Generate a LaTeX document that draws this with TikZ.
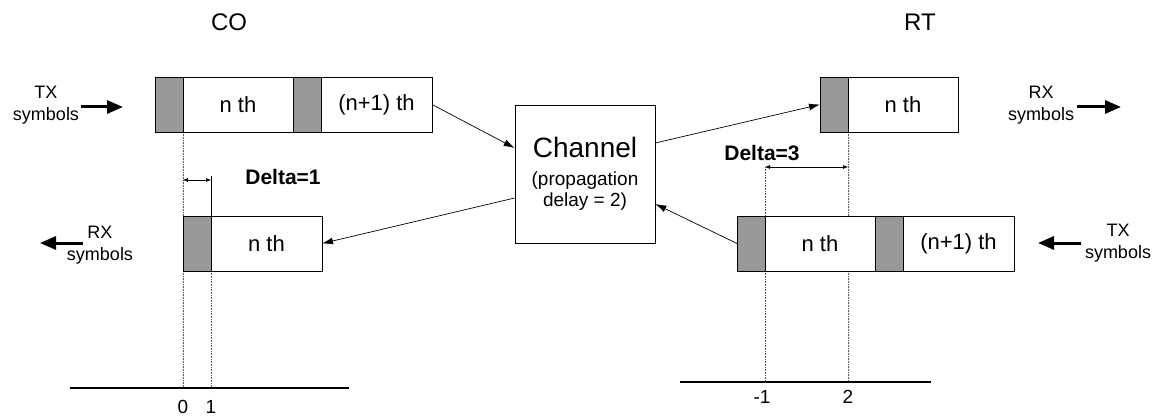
\documentclass[tikz,border=0pt]{standalone}
\usepackage{fontspec}
\setmainfont{Liberation Sans}
\usetikzlibrary{arrows.meta,backgrounds}

\begin{document}
\begin{tikzpicture}[x=1pt,y=-1pt,
  cell/.style={draw, line width=0.7pt, minimum height=55pt, inner sep=0pt,
    outer sep=0pt, anchor=west, fill=white, font=\fontsize{22}{26}\selectfont},
  guard/.style={cell, fill=black!40, minimum width=28pt},
  link/.style={line width=0.7pt, -{Latex[length=11pt,width=7pt]}},
  sym/.style={line width=3pt, -{Triangle[length=16pt,width=13pt]}},
  span/.style={line width=0.6pt, {Latex[length=5pt,width=4pt]}-{Latex[length=5pt,width=4pt]}},
  guide/.style={draw=black!65, line width=0.6pt, dash pattern=on 0.8pt off 0.8pt},
  timeline/.style={line width=1.8pt},
  tag/.style={font=\fontsize{18}{22}\selectfont, align=center, inner sep=0pt},
  tick/.style={font=\fontsize{19}{22}\selectfont, anchor=north, inner sep=0pt},
  title/.style={font=\fontsize{24}{28}\selectfont, inner sep=0pt},
  delta/.style={font=\fontsize{21}{24}\selectfont\bfseries, inner sep=0pt}]
\useasboundingbox (0,0) rectangle (1152,417);

% titles
\node[title] (cotitle) at (229,22) {CO};
\node[title] (rttitle) at (920,22) {RT};

% CO: transmitted frame
\node[guard] (cotxg1) at (155,104.5) {};
\node[cell, minimum width=110pt] (cotxn) at (cotxg1.east) {n th};
\node[guard] (cotxg2) at (cotxn.east) {};
\node[cell, minimum width=111pt] (cotxn1) at (cotxg2.east) {(n+1) th};

% CO: received frame
\node[guard] (corxg) at (183,243.5) {};
\node[cell, minimum width=111pt] (corxn) at (corxg.east) {n th};

% RT: received frame
\node[guard] (rtrxg) at (820,104.5) {};
\node[cell, minimum width=110pt] (rtrxn) at (rtrxg.east) {n th};

% RT: transmitted frame
\node[guard] (rttxg) at (737,243.5) {};
\node[cell, minimum width=110pt] (rttxn) at (rttxg.east) {n th};
\node[guard] (rttxg2) at (rttxn.east) {};
\node[cell, minimum width=111pt] (rttxn1) at (rttxg2.east) {(n+1) th};

% channel
\node[draw, line width=0.7pt, minimum width=140pt, minimum height=138pt,
  align=center, font=\fontsize{19}{21}\selectfont] (chan) at (585,174)
  {{\fontsize{28}{30}\selectfont Channel}\\[7pt](propagation\\delay = 2)};

% time axes
\coordinate (coL) at (70,388);  \coordinate (coR) at (349,388);
\coordinate (rtL) at (680,382); \coordinate (rtR) at (931,382);
\draw[timeline] (coL) -- (coR);
\draw[timeline] (rtL) -- (rtR);

\coordinate (d1) at (0,180);
\coordinate (d3) at (0,167);

\begin{scope}[on background layer]
  \draw[guide] (cotxg1.south east) -- (cotxg1.south east |- coL);
  \draw[guide] (corxg.south east) -- (corxg.south east |- coL);
  \draw[guide] (rtrxg.south east) -- (rtrxg.south east |- rtL);
  \draw[guide] (rttxg.east |- d3) -- (rttxg.east |- rtL);
\end{scope}
\draw[line width=0.6pt] (corxg.north east) -- ([yshift=40pt]corxg.north east);

% offsets
\draw[span] (cotxg1.south east |- d1) -- (corxg.east |- d1);
\node[delta] (delta1) at (283,177) {Delta=1};
\draw[span] (rttxg.east |- d3) -- (rtrxg.south east |- d3);
\node[delta] (delta3) at (762,153) {Delta=3};

% axis marks
\node[tick] (l0) at ([yshift=-12pt]cotxg1.south east |- coL) {0};
\node[tick] (l1) at ([yshift=-12pt]corxg.east |- coL) {1};
\node[tick] (lm1) at ([xshift=-3pt,yshift=-8pt]rttxg.east |- rtL) {-1};
\node[tick] (l2) at ([yshift=-8pt]rtrxg.south east |- rtL) {2};

% links through the channel
\draw[link] (cotxn1.east) -- ([yshift=26pt]chan.west);
\draw[link] ([yshift=31pt]chan.east) -- (rtrxg.west);
\draw[link] (rttxg.west) -- ([yshift=-30pt]chan.east);
\draw[link] ([yshift=-24pt]chan.west) -- (corxn.east);

% symbol streams
\node[tag] (cotx) at (46,105) {TX\\symbols};
\coordinate (cotxa) at (81,107); \coordinate (cotxb) at (123,107);
\draw[sym] (cotxa) -- (cotxb);

\node[tag] (corx) at (100,245) {RX\\symbols};
\coordinate (corxa) at (83,243); \coordinate (corxb) at (40,243);
\draw[sym] (corxa) -- (corxb);

\node[tag] (rtrx) at (1041,105) {RX\\symbols};
\coordinate (rtrxa) at (1077,107); \coordinate (rtrxb) at (1121,107);
\draw[sym] (rtrxa) -- (rtrxb);

\node[tag] (rttx) at (1118,243) {TX\\symbols};
\coordinate (rttxa) at (1081,243); \coordinate (rttxb) at (1038,243);
\draw[sym] (rttxa) -- (rttxb);
\end{tikzpicture}
\end{document}
